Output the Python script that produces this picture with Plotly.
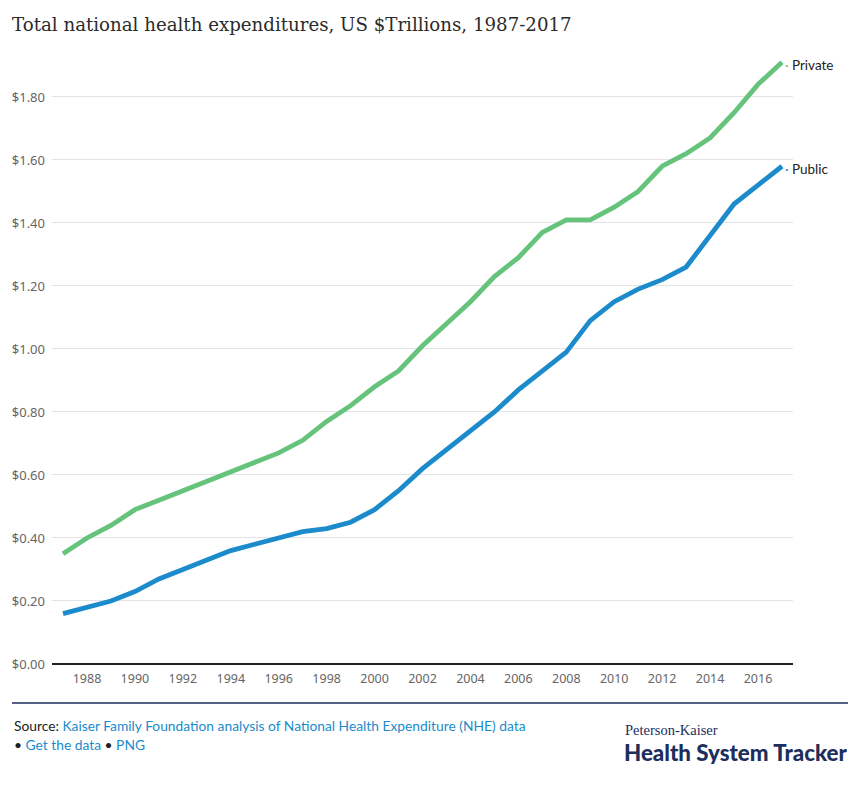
import plotly.graph_objects as go

years = list(range(1987, 2018))
private = [0.35, 0.40, 0.44, 0.49, 0.52, 0.55, 0.58, 0.61, 0.64, 0.67, 0.71, 0.77, 0.82, 0.88, 0.93,
           1.01, 1.08, 1.15, 1.23, 1.29, 1.37, 1.41, 1.41, 1.45, 1.50, 1.58, 1.62, 1.67, 1.75, 1.84, 1.91]
public = [0.16, 0.18, 0.20, 0.23, 0.27, 0.30, 0.33, 0.36, 0.38, 0.40, 0.42, 0.43, 0.45, 0.49, 0.55,
          0.62, 0.68, 0.74, 0.80, 0.87, 0.93, 0.99, 1.09, 1.15, 1.19, 1.22, 1.26, 1.36, 1.46, 1.52, 1.58]
series_names = ["Private", "Public"]
colors = ["#66C37B", "#1C8BCC"]
tick_vals = [0, 0.2, 0.4, 0.6, 0.8, 1.0, 1.2, 1.4, 1.6, 1.8]
tick_text = ["$0.00", "$0.20", "$0.40", "$0.60", "$0.80", "$1.00", "$1.20", "$1.40", "$1.60", "$1.80"]
x_ticks = list(range(1988, 2017, 2))

# page has an 8px body margin; figure sized/placed to compensate
W, H = 852, 777
ML, MR, MT, MB = 44, 67, 42, 121
PW, PH = W - ML - MR, H - MT - MB  # 741 x 614
OFF = 8


def px(xpage):
    return (xpage - OFF - ML) / PW


def py(ypage):
    return 1 - (ypage - OFF - MT) / PH


fig = go.Figure()
for name, vals, col in zip(series_names, [private, public], colors):
    fig.add_trace(go.Scatter(x=years, y=vals, mode="lines", name=name,
                             line=dict(color=col, width=4.8), hoverinfo="x+y"))
    fig.add_annotation(x=years[-1], y=vals[-1], xref="x", yref="y",
                       text=f"<span style='color:{col}'>·</span> {name}",
                       showarrow=False, xanchor="left", yanchor="middle", xshift=1, yshift=-3,
                       font=dict(family="Lato, Noto Sans, sans-serif", size=13.5, color="#222"))

fig.update_layout(
    width=W, height=H,
    margin=dict(l=ML, r=MR, t=MT, b=MB, autoexpand=False),
    paper_bgcolor="white", plot_bgcolor="white",
    showlegend=False,
    title=dict(text="Total national health expenditures, US $Trillions, 1987-2017",
               x=4 / W, xref="container", xanchor="left", y=1 - 17 / H, yref="container",
               yanchor="middle", pad=dict(l=0, t=0, b=0, r=0),
               font=dict(family="DejaVu Serif, serif", size=18.2, color="#2b2b2b")),
    xaxis=dict(range=[1986.54, 2017.46], tickvals=x_ticks, ticks="", showgrid=False,
               zeroline=False, showline=False, automargin=False, ticklabelstandoff=5,
               tickfont=dict(family="Noto Sans, sans-serif", size=12.5, color="#666")),
    yaxis=dict(range=[0, 1.949], tickvals=tick_vals, ticktext=tick_text, showgrid=True,
               gridcolor="#e4e4e4", gridwidth=1, zeroline=True, zerolinecolor="#222",
               zerolinewidth=1.5, ticks="", ticklabelstandoff=6, automargin=False,
               tickfont=dict(family="Noto Sans, sans-serif", size=13, color="#666")),
)

# footer
fig.add_shape(type="line", xref="paper", yref="paper", x0=px(12), x1=px(848),
              y0=py(703), y1=py(703), line=dict(color="#1d2e5c", width=1.5))
fig.add_annotation(xref="paper", yref="paper", x=px(12), y=py(725), xanchor="left", yanchor="middle",
                   showarrow=False, align="left",
                   text="Source: <span style='color:#1a8bcc'>Kaiser Family Foundation analysis of National Health Expenditure (NHE) data</span>",
                   font=dict(family="Lato, Noto Sans, sans-serif", size=13.8, color="#222"))
fig.add_annotation(xref="paper", yref="paper", x=px(12), y=py(744), xanchor="left", yanchor="middle",
                   showarrow=False, align="left",
                   text="• <span style='color:#1a8bcc'>Get the data</span> • <span style='color:#1a8bcc'>PNG</span>",
                   font=dict(family="Lato, Noto Sans, sans-serif", size=13.8, color="#222"))
fig.add_annotation(xref="paper", yref="paper", x=px(624), y=py(739), xanchor="left", yanchor="bottom",
                   showarrow=False, text="Peterson-Kaiser", borderpad=0,
                   font=dict(family="Liberation Serif, serif", size=14.5, color="#1d2e5c"))
fig.add_annotation(xref="paper", yref="paper", x=px(623), y=py(739), xanchor="left", yanchor="top",
                   showarrow=False, text="Health System Tracker", height=24, borderpad=0,
                   font=dict(family="Lato, sans-serif", size=22.3, color="#1d2e5c", weight=900))

fig.write_html("out.html")
